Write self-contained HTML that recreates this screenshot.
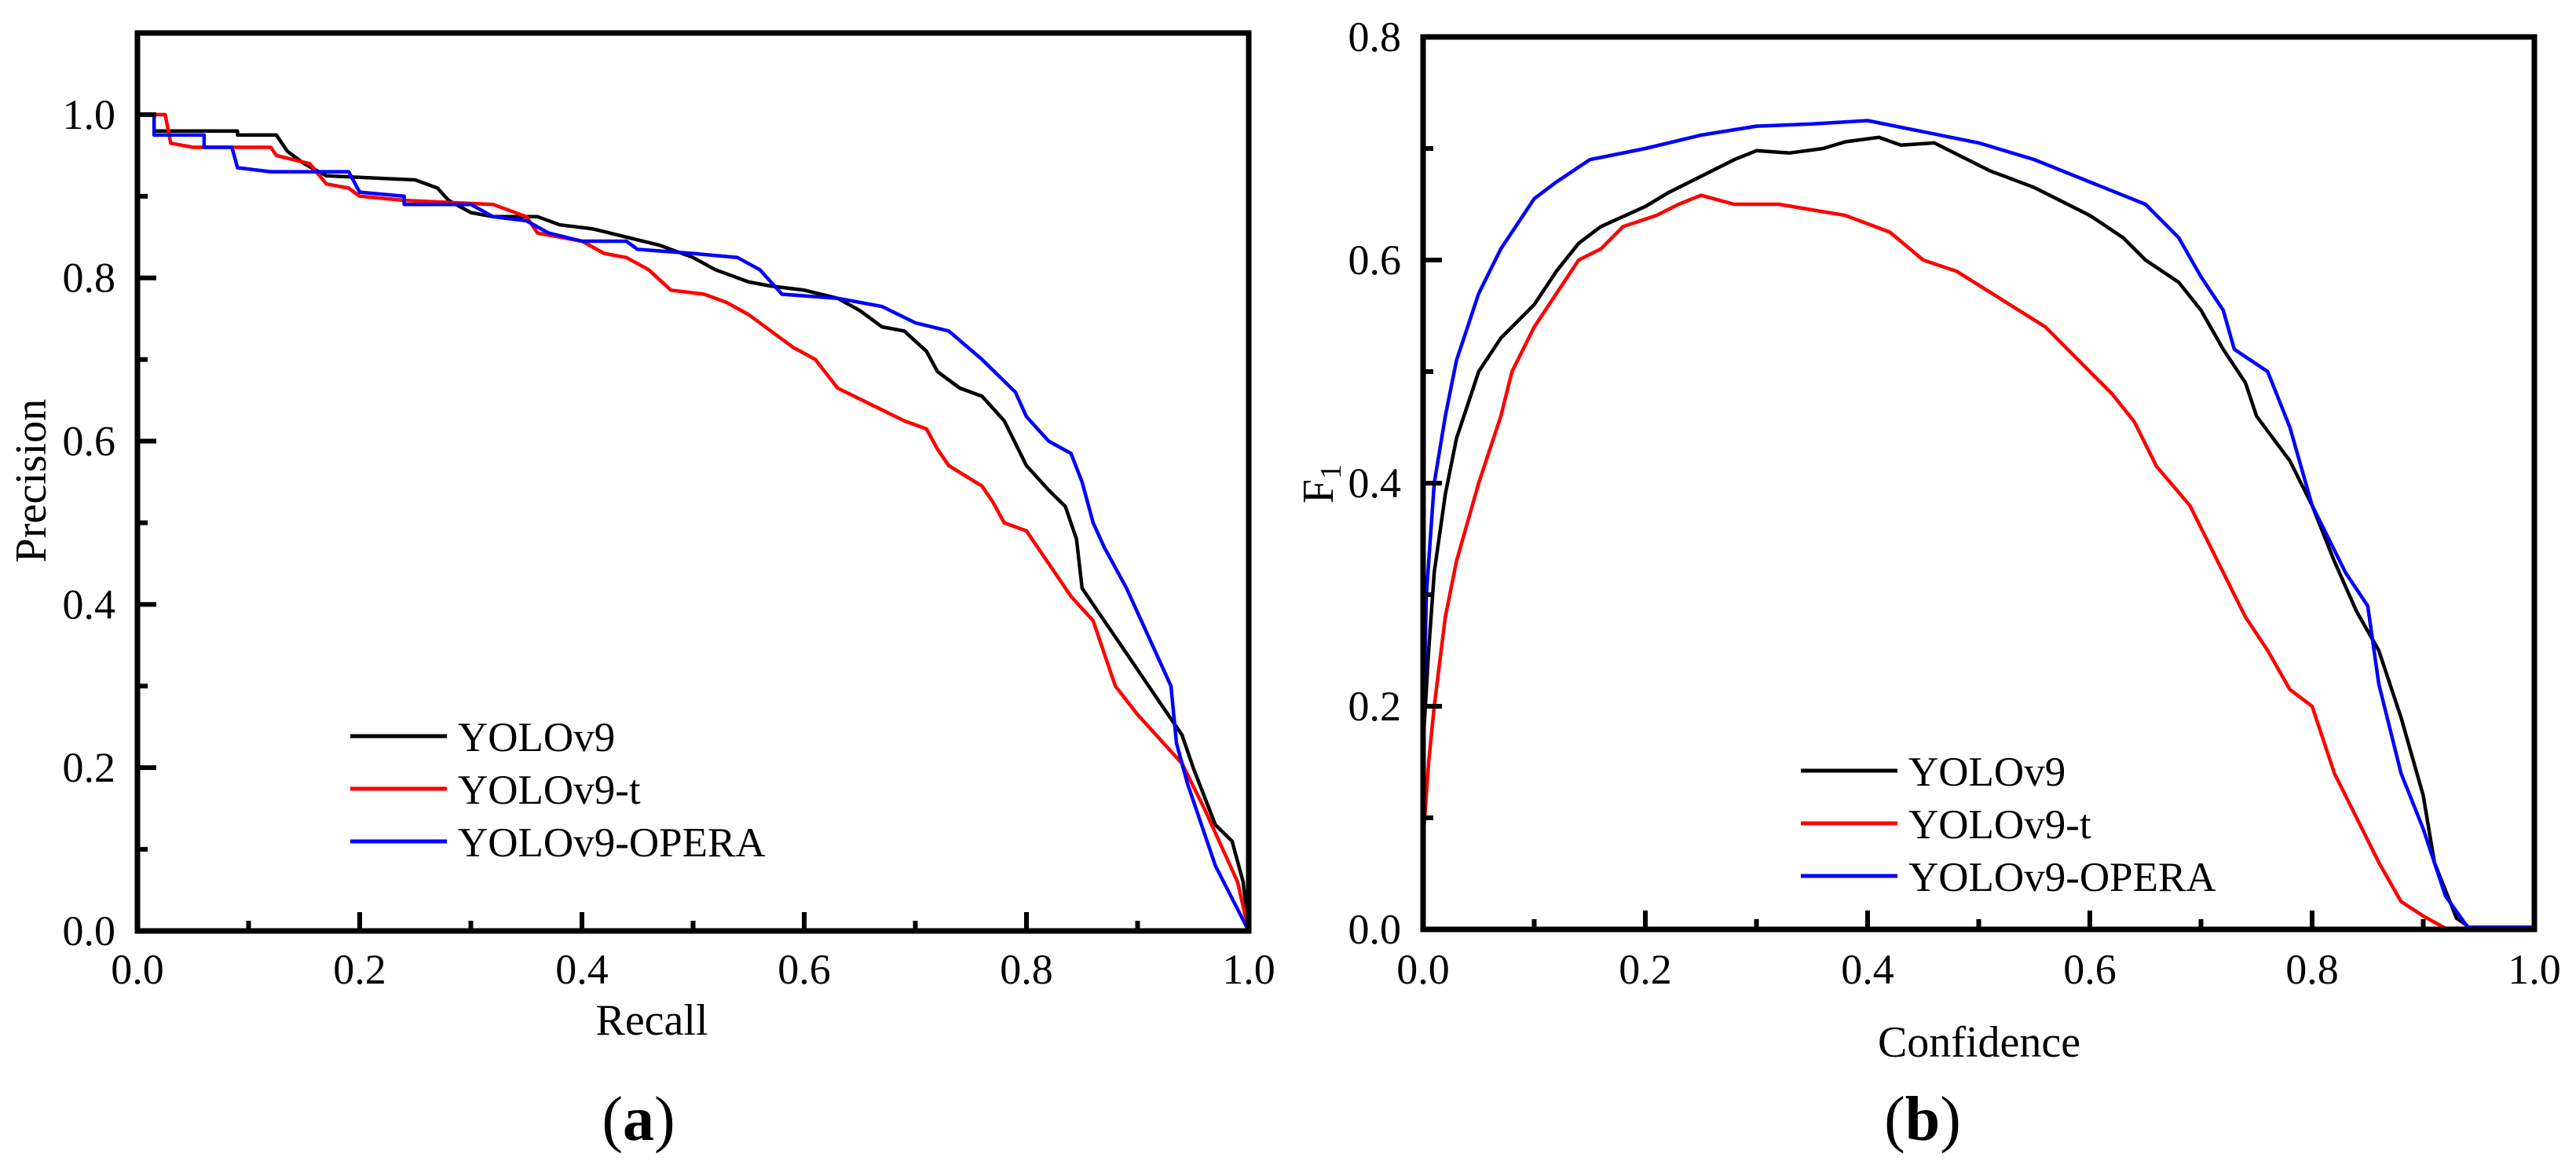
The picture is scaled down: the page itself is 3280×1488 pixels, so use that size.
<!DOCTYPE html>
<html><head><meta charset="utf-8">
<style>
html,body{margin:0;padding:0;background:#fff;}
svg{display:block;font-family:"Liberation Serif",serif;}
svg text{font-family:"Liberation Serif",serif;}
</style></head>
<body>
<svg id="fig" width="3280" height="1488" viewBox="0 0 3280 1488" xmlns="http://www.w3.org/2000/svg" font-family="Liberation Serif, serif"></svg>
<script>
// ---- Panel (a) data: Precision vs Recall ----
const prRecallV9 = [0,0.015,0.015,0.09,0.09,0.125,0.13,0.135,0.15,0.17,0.25,0.27,0.28,0.3,0.32,0.36,0.38,0.41,0.44,0.47,0.5,0.52,0.55,0.57,0.6,0.63,0.65,0.67,0.69,0.71,0.72,0.74,0.76,0.78,0.8,0.82,0.835,0.845,0.85,0.86,0.87,0.88,0.9,0.92,0.94,0.95,0.97,0.985,0.995,1.0];
const prPrecV9   = [1,1,0.98,0.98,0.975,0.975,0.965,0.955,0.94,0.925,0.92,0.91,0.895,0.88,0.875,0.875,0.865,0.86,0.85,0.84,0.825,0.81,0.795,0.79,0.785,0.775,0.76,0.74,0.735,0.71,0.685,0.665,0.655,0.625,0.57,0.54,0.52,0.48,0.42,0.4,0.38,0.36,0.32,0.28,0.24,0.2,0.13,0.11,0.06,0];
const prRecallT = [0,0.025,0.03,0.05,0.12,0.125,0.155,0.17,0.19,0.2,0.24,0.32,0.35,0.36,0.4,0.42,0.44,0.46,0.48,0.51,0.53,0.55,0.57,0.59,0.61,0.63,0.66,0.69,0.71,0.72,0.73,0.76,0.77,0.78,0.8,0.82,0.84,0.86,0.87,0.88,0.9,0.92,0.94,0.96,0.98,0.99,1.0];
const prPrecT   = [1,1,0.965,0.96,0.96,0.95,0.94,0.915,0.91,0.9,0.895,0.89,0.875,0.855,0.845,0.83,0.825,0.81,0.785,0.78,0.77,0.755,0.735,0.715,0.7,0.665,0.645,0.625,0.615,0.59,0.57,0.545,0.525,0.5,0.49,0.45,0.41,0.38,0.34,0.3,0.265,0.235,0.205,0.15,0.09,0.06,0];
const prRecallOP = [0,0.015,0.015,0.06,0.06,0.085,0.09,0.12,0.19,0.2,0.24,0.24,0.3,0.32,0.35,0.37,0.4,0.44,0.45,0.5,0.54,0.56,0.58,0.63,0.67,0.7,0.73,0.76,0.79,0.8,0.82,0.84,0.85,0.86,0.87,0.89,0.91,0.93,0.935,0.945,0.96,0.97,1.0];
const prPrecOP   = [1,1,0.975,0.975,0.96,0.96,0.935,0.93,0.93,0.905,0.9,0.89,0.89,0.875,0.87,0.855,0.845,0.845,0.835,0.83,0.825,0.81,0.78,0.775,0.765,0.745,0.735,0.7,0.66,0.63,0.6,0.585,0.55,0.5,0.47,0.42,0.36,0.3,0.23,0.18,0.12,0.08,0];
// ---- Panel (b) data: F1 vs Confidence ----
const f1ConfV9 = [0,0.005,0.01,0.02,0.03,0.05,0.07,0.1,0.12,0.14,0.16,0.2,0.22,0.25,0.28,0.3,0.33,0.36,0.38,0.41,0.43,0.46,0.48,0.51,0.55,0.6,0.63,0.65,0.68,0.7,0.72,0.74,0.75,0.78,0.8,0.82,0.84,0.86,0.88,0.9,0.91,0.93,0.94];
const f1ValV9  = [0.166,0.25,0.32,0.39,0.44,0.5,0.53,0.56,0.59,0.615,0.63,0.648,0.66,0.675,0.69,0.698,0.696,0.7,0.706,0.71,0.703,0.705,0.695,0.68,0.665,0.64,0.62,0.6,0.58,0.555,0.52,0.49,0.46,0.42,0.38,0.33,0.285,0.25,0.19,0.12,0.06,0.01,0.003];
const f1ConfT = [0,0.005,0.01,0.02,0.03,0.05,0.07,0.08,0.1,0.12,0.14,0.16,0.18,0.21,0.23,0.25,0.28,0.32,0.35,0.38,0.42,0.45,0.48,0.52,0.56,0.59,0.62,0.64,0.66,0.69,0.71,0.73,0.74,0.76,0.78,0.8,0.82,0.84,0.86,0.88,0.9,0.92,0.94];
const f1ValT  = [0.08,0.15,0.2,0.28,0.33,0.4,0.46,0.5,0.54,0.57,0.6,0.61,0.63,0.64,0.65,0.658,0.65,0.65,0.645,0.64,0.625,0.6,0.59,0.565,0.54,0.51,0.48,0.455,0.415,0.38,0.34,0.3,0.28,0.25,0.215,0.2,0.14,0.1,0.06,0.025,0.012,0.001,0.001];
const f1ConfOP = [0,0.003,0.01,0.02,0.03,0.05,0.07,0.09,0.1,0.12,0.15,0.2,0.25,0.3,0.35,0.4,0.45,0.5,0.55,0.6,0.65,0.68,0.7,0.72,0.73,0.76,0.78,0.8,0.83,0.85,0.86,0.88,0.9,0.92,0.94,1.0];
const f1ValOP  = [0.17,0.3,0.4,0.46,0.51,0.57,0.61,0.64,0.655,0.67,0.69,0.7,0.712,0.72,0.722,0.725,0.715,0.705,0.69,0.67,0.65,0.62,0.585,0.555,0.52,0.5,0.45,0.38,0.32,0.29,0.22,0.14,0.09,0.03,0.002,0.002];
const xTicks = [0,0.2,0.4,0.6,0.8,1.0];
const yTicksA = [0,0.2,0.4,0.6,0.8,1.0];
const yTicksB = [0,0.2,0.4,0.6,0.8];
const seriesNames = ["YOLOv9","YOLOv9-t","YOLOv9-OPERA"];
const seriesColors = ["#000","#ff0000","#0000ff"];

const NS="http://www.w3.org/2000/svg";
const FONT="Liberation Serif, serif";
const svg=document.getElementById('fig');
function mk(tag,attrs,parent){const e=document.createElementNS(NS,tag);for(const k in attrs)e.setAttribute(k,attrs[k]);if(tag==='text')e.setAttribute('font-family',FONT);(parent||svg).appendChild(e);return e;}

function panel(cfg){
  const g=mk('g',{});
  
  
  const sx=v=>cfg.x0+(v-cfg.xmin)/(cfg.xmax-cfg.xmin)*(cfg.x1-cfg.x0);
  const sy=v=>cfg.y0-(v-cfg.ymin)/(cfg.ymax-cfg.ymin)*(cfg.y0-cfg.y1);
  cfg.series.forEach((s,i)=>{
    const pts=s.x.map((xv,j)=>sx(xv).toFixed(1)+','+sy(s.y[j]).toFixed(1)).join(' ');
    const pl=mk('polyline',{points:pts,fill:'none',stroke:seriesColors[i],'stroke-width':4.5,'stroke-linejoin':'round'},g);
    
    
  });
  const fr=mk('rect',{x:cfg.x0,y:cfg.y1,width:cfg.x1-cfg.x0,height:cfg.y0-cfg.y1,fill:'none',stroke:'#000','stroke-width':7},g);
  
  
  for(let v=cfg.xmin;v<=cfg.xmax+1e-9;v+=0.1){
    const major=Math.abs(Math.round(v*10)%2)===0;
    mk('line',{x1:sx(v),x2:sx(v),y1:cfg.y0,y2:cfg.y0-(major?24:13),stroke:'#000','stroke-width':6},g);
  }
  xTicks.forEach(v=>{
    const t=mk('text',{x:sx(v),y:1252,'font-size':54,'text-anchor':'middle'},g);
    t.textContent=v.toFixed(1);
    
    
  });
  for(let v=cfg.ymin;v<=cfg.ymax+1e-9;v+=0.1){
    const major=Math.abs(Math.round(v*10)%2)===0;
    mk('line',{x1:cfg.x0,x2:cfg.x0+(major?24:13),y1:sy(v),y2:sy(v),stroke:'#000','stroke-width':6},g);
  }
  cfg.yTicks.forEach(v=>{
    const t=mk('text',{x:cfg.x0-28,y:sy(v)+18,'font-size':54,'text-anchor':'end'},g);
    t.textContent=v.toFixed(1);
    
    
  });
  seriesNames.forEach((n,i)=>{
    const y=cfg.legY+i*cfg.legDy;
    const ln=mk('line',{x1:cfg.legX,x2:cfg.legX+123,y1:y,y2:y,stroke:seriesColors[i],'stroke-width':5},g);
    
    
    const t=mk('text',{x:cfg.legX+137,y:y+19,'font-size':53},g);
    t.textContent=n;
    
    
  });
  return g;
}

panel({name:'panel-a-precision-recall',x0:175,x1:1590,y0:1185,y1:42,xmin:0,xmax:1,ymin:0,ymax:1.1,yTicks:yTicksA,legX:446,legY:937,legDy:67,
  series:[{x:prRecallV9,y:prPrecV9},{x:prRecallT,y:prPrecT},{x:prRecallOP,y:prPrecOP}]});
panel({name:'panel-b-f1-confidence',x0:1812,x1:3227,y0:1183,y1:47,xmin:0,xmax:1,ymin:0,ymax:0.8,yTicks:yTicksB,legX:2293,legY:981,legDy:67,
  series:[{x:f1ConfV9,y:f1ValV9},{x:f1ConfT,y:f1ValT},{x:f1ConfOP,y:f1ValOP}]});

function label(txt,attrs,name){const t=mk('text',attrs);t.textContent=txt;return t;}
label('Recall',{x:830,y:1317,'font-size':56,'text-anchor':'middle'},'x-axis-title-a');
label('Precision',{x:0,y:0,'font-size':56,'text-anchor':'middle',transform:'translate(58,612) rotate(-90)'},'y-axis-title-a');
label('Confidence',{x:2520,y:1345,'font-size':56,'text-anchor':'middle'},'x-axis-title-b');
const f1=label('F',{x:0,y:0,'font-size':56,'text-anchor':'middle',transform:'translate(1697,616) rotate(-90)'},'y-axis-title-b');
const sub=mk('tspan',{'font-size':38,dy:10},f1);sub.textContent='1';
const ca=label('(',{x:813,y:1451,'font-size':80,'text-anchor':'middle'},'caption-a');
const cab=mk('tspan',{'font-weight':'bold'},ca);cab.textContent='a';
const cae=mk('tspan',{},ca);cae.textContent=')';
const cb=label('(',{x:2448,y:1451,'font-size':80,'text-anchor':'middle'},'caption-b');
const cbb=mk('tspan',{'font-weight':'bold'},cb);cbb.textContent='b';
const cbe=mk('tspan',{},cb);cbe.textContent=')';
</script>
</body></html>
